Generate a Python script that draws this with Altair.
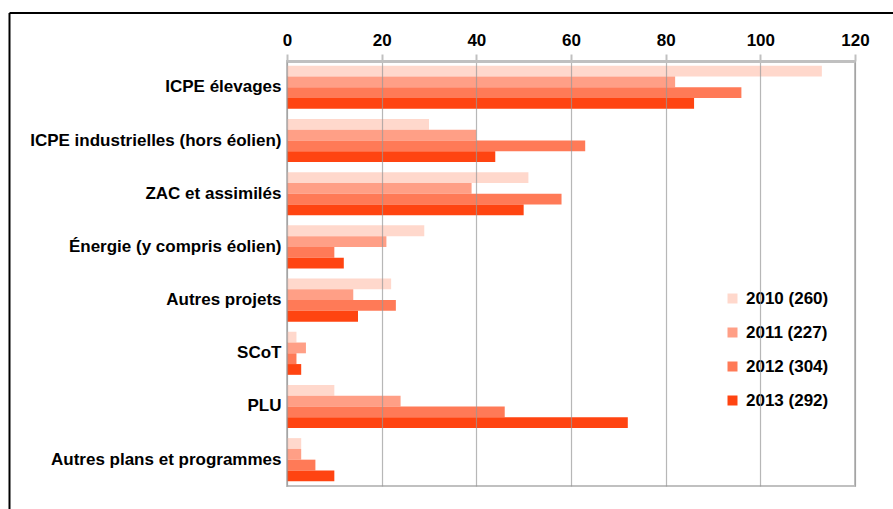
import altair as alt
import pandas as pd

categories = [
    "ICPE élevages",
    "ICPE industrielles (hors éolien)",
    "ZAC et assimilés",
    "Énergie (y compris éolien)",
    "Autres projets",
    "SCoT",
    "PLU",
    "Autres plans et programmes",
]
series = ["2010 (260)", "2011 (227)", "2012 (304)", "2013 (292)"]
v2010 = [113, 30, 51, 29, 22, 2, 10, 3]
v2011 = [82, 40, 39, 21, 14, 4, 24, 3]
v2012 = [96, 63, 58, 10, 23, 2, 46, 6]
v2013 = [86, 44, 50, 12, 15, 3, 72, 10]
colors = ["#FFD8CC", "#FF9F86", "#FF7A57", "#FF4411"]
x_ticks = [0, 20, 40, 60, 80, 100, 120]

rows = []
for s, vals in zip(series, [v2010, v2011, v2012, v2013]):
    for c, v in zip(categories, vals):
        rows.append({"cat": c, "serie": s, "val": v})
df = pd.DataFrame(rows)

W, H = 568, 425
FONT = "Liberation Sans"

bars = alt.Chart(df).mark_bar().encode(
    x=alt.X("val:Q", scale=alt.Scale(domain=[0, 120], nice=False),
            axis=alt.Axis(orient="top", values=x_ticks, title=None, grid=True,
                          gridColor="#999999", gridOpacity=0.7, gridWidth=1.2,
                          domainColor="#C0C0C0", domainWidth=3,
                          tickColor="#C0C0C0", tickSize=7, tickWidth=2,
                          labelFont=FONT, labelFontSize=17, labelFontWeight="bold",
                          labelColor="#000000", labelPadding=5, labelFlush=False,
                          labelOverlap=False, zindex=1)),
    y=alt.Y("cat:N", sort=categories,
            scale=alt.Scale(paddingInner=0.19, paddingOuter=0.09),
            axis=alt.Axis(title=None, domain=False, ticks=False, labelFont=FONT,
                          labelFontSize=17, labelFontWeight="bold", labelColor="#000000",
                          labelPadding=6, labelLimit=400)),
    yOffset=alt.YOffset("serie:N", sort=series,
                        scale=alt.Scale(paddingInner=0, paddingOuter=0)),
    color=alt.Color("serie:N", sort=series,
                    scale=alt.Scale(domain=series, range=colors),
                    legend=alt.Legend(orient="none", legendX=437, legendY=229,
                                      title=None, symbolType="square", symbolSize=100,
                                      symbolStrokeWidth=0, symbolOpacity=1,
                                      labelFont=FONT, labelFontSize=17,
                                      labelFontWeight="bold", labelColor="#000000",
                                      rowPadding=16, padding=0, labelOffset=5)),
)

frame_data = alt.Data(values=[{}])
top_line = alt.Chart(frame_data).mark_rule(color="black", strokeWidth=2).encode(
    x=alt.value(-277.5), x2=alt.value(W + 60), y=alt.value(-48))
left_line = alt.Chart(frame_data).mark_rule(color="black", strokeWidth=2).encode(
    x=alt.value(-277.5), y=alt.value(-48), y2=alt.value(H + 60))

chart = alt.layer(bars, top_line, left_line).properties(
    width=W, height=H,
    autosize=alt.AutoSizeParams(type="none"),
    padding={"left": 287, "top": 61, "right": 38, "bottom": 23},
    background="white",
).configure_view(stroke="#C0C0C0", strokeWidth=2)

chart.save("out.html", embed_options={"renderer": "svg", "actions": False})
